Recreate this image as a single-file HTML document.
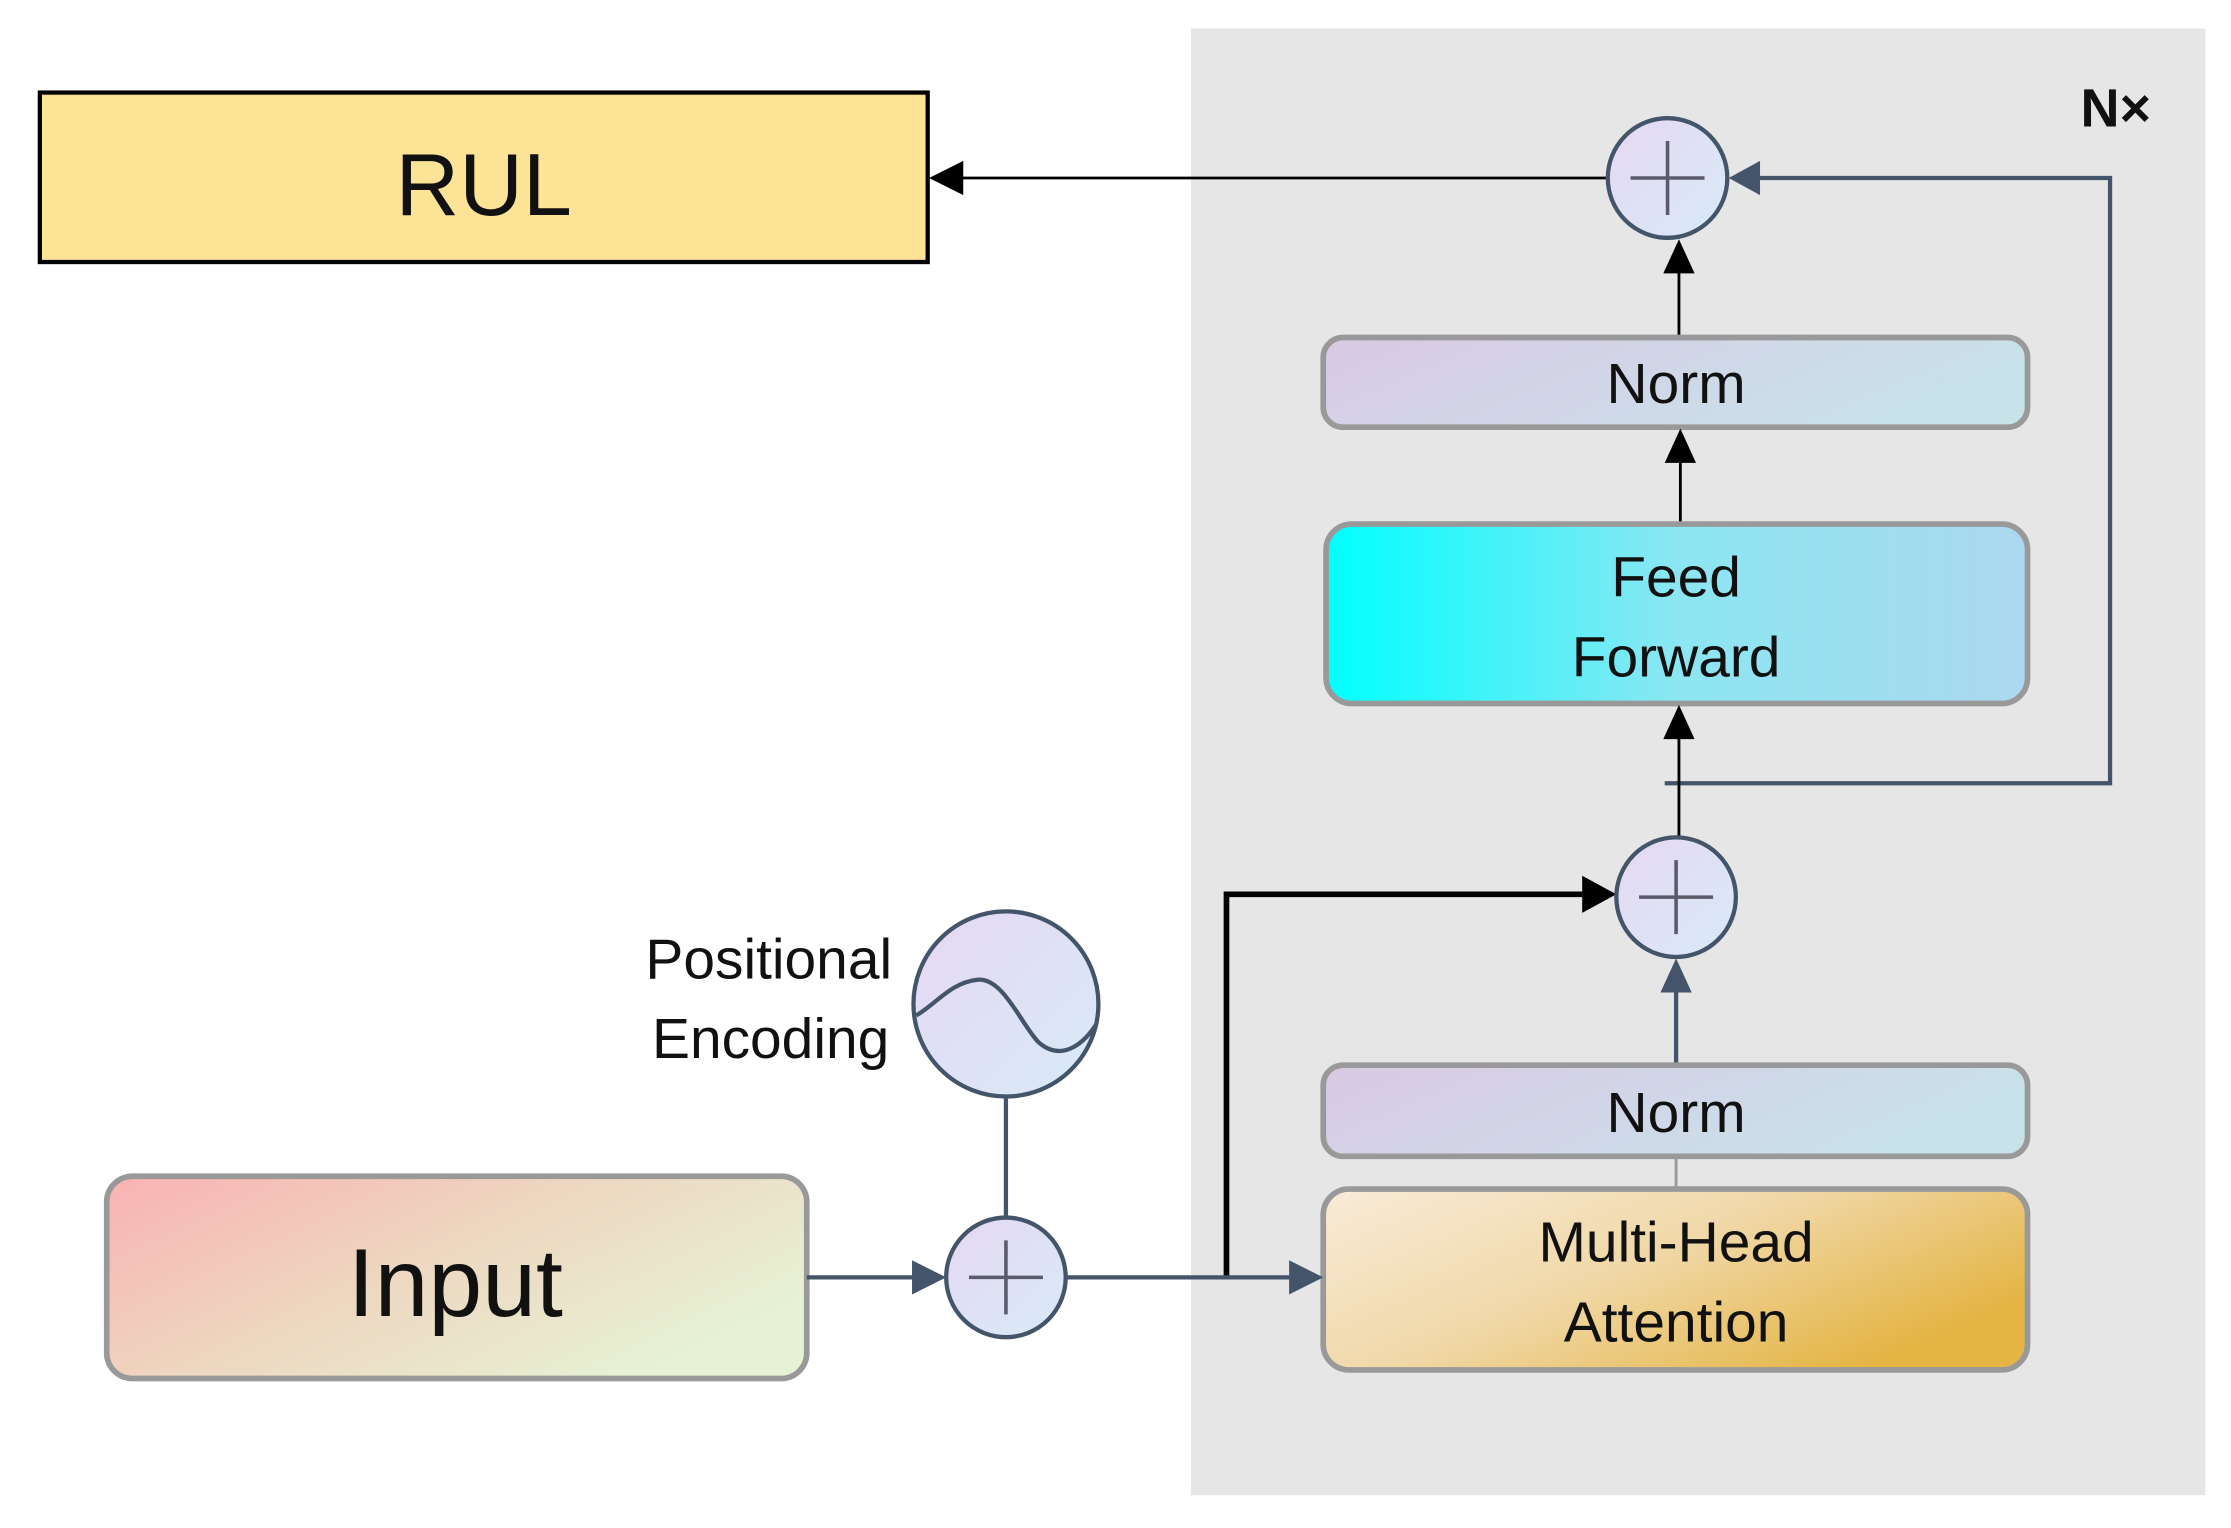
<!DOCTYPE html>
<html><head><style>html,body{margin:0;padding:0;background:#fff}svg{display:block}</style></head>
<body>
<svg width="2231" height="1528" viewBox="0 0 1568 1073" preserveAspectRatio="none" xmlns="http://www.w3.org/2000/svg" font-family="Liberation Sans, sans-serif">
<defs>
<linearGradient id="circ" x1="0" y1="0" x2="1" y2="1"><stop offset="0" stop-color="#e6d8f2"/><stop offset="1" stop-color="#d8eaf8"/></linearGradient>
<linearGradient id="norm" x1="0" y1="0" x2="1" y2="0.3"><stop offset="0" stop-color="#dac9e4"/><stop offset="1" stop-color="#c8e2ea"/></linearGradient>
<linearGradient id="ff" x1="0" y1="0" x2="1" y2="0"><stop offset="0" stop-color="#00ffff"/><stop offset="0.5" stop-color="#8ce6f2"/><stop offset="1" stop-color="#acd8f0"/></linearGradient>
<linearGradient id="mha" x1="0" y1="0" x2="1" y2="0.6"><stop offset="0" stop-color="#f8ebd8"/><stop offset="0.5" stop-color="#f0d8a8"/><stop offset="1" stop-color="#e4b444"/></linearGradient>
<linearGradient id="inp" x1="0" y1="0" x2="1" y2="0.6"><stop offset="0" stop-color="#f9b2b2"/><stop offset="0.5" stop-color="#eed6c0"/><stop offset="1" stop-color="#e6f2d4"/></linearGradient>
</defs>
<rect x="837" y="20" width="713" height="1030" fill="#e6e6e6"/>
<rect x="28" y="65" width="624" height="119" fill="#fde396" stroke="#000" stroke-width="3"/>
<text x="340" y="151" font-size="62" text-anchor="middle" fill="#111">RUL</text>
<text x="1487" y="89" font-size="38" text-anchor="middle" fill="#111" font-weight="bold">N×</text>
<line x1="1130" y1="125" x2="670" y2="125" stroke="#000" stroke-width="2"/>
<path d="M653,125 l24,-12 v24z" fill="#000"/>
<path d="M1170,550 H1483 V125 H1230" fill="none" stroke="#44546a" stroke-width="3"/>
<path d="M1215,125 l22,-12 v24z" fill="#44546a"/>
<circle cx="1172" cy="125" r="42" fill="url(#circ)" stroke="#44546a" stroke-width="3"/>
<path d="M1146,125 H1198 M1172,99 V151" stroke="#5a5a6a" stroke-width="2.5"/>
<line x1="1180" y1="237" x2="1180" y2="190" stroke="#000" stroke-width="2"/>
<path d="M1180,168 l-11,24 h22z" fill="#000"/>
<rect x="930" y="237" width="495" height="63" rx="14" fill="url(#norm)" stroke="#999" stroke-width="4"/>
<text x="1178" y="283" font-size="40" text-anchor="middle" fill="#111">Norm</text>
<line x1="1181" y1="368" x2="1181" y2="322" stroke="#000" stroke-width="2"/>
<path d="M1181,301 l-11,24 h22z" fill="#000"/>
<rect x="932" y="368" width="493" height="126" rx="18" fill="url(#ff)" stroke="#999" stroke-width="4"/>
<text x="1178" y="419" font-size="40" text-anchor="middle" fill="#111">Feed</text>
<text x="1178" y="475" font-size="40" text-anchor="middle" fill="#111">Forward</text>
<line x1="1180" y1="588" x2="1180" y2="515" stroke="#000" stroke-width="2"/>
<path d="M1180,495 l-11,24 h22z" fill="#000"/>
<path d="M862,897 V628 H1112" fill="none" stroke="#000" stroke-width="4"/>
<path d="M1136,628 l-24,-13 v26z" fill="#000"/>
<circle cx="1178" cy="630" r="42" fill="url(#circ)" stroke="#44546a" stroke-width="3"/>
<path d="M1152,630 H1204 M1178,604 V656" stroke="#5a5a6a" stroke-width="2.5"/>
<line x1="1178" y1="748" x2="1178" y2="695" stroke="#44546a" stroke-width="3"/>
<path d="M1178,673 l-11,24 h22z" fill="#44546a"/>
<rect x="930" y="748" width="495" height="64" rx="14" fill="url(#norm)" stroke="#999" stroke-width="4"/>
<text x="1178" y="795" font-size="40" text-anchor="middle" fill="#111">Norm</text>
<line x1="1178" y1="812" x2="1178" y2="835" stroke="#999" stroke-width="2"/>
<rect x="930" y="835" width="495" height="127" rx="18" fill="url(#mha)" stroke="#999" stroke-width="4"/>
<text x="1178" y="886" font-size="40" text-anchor="middle" fill="#111">Multi-Head</text>
<text x="1178" y="942" font-size="40" text-anchor="middle" fill="#111">Attention</text>
<rect x="75" y="826" width="492" height="142" rx="18" fill="url(#inp)" stroke="#999" stroke-width="4"/>
<text x="320" y="924" font-size="68" text-anchor="middle" fill="#111">Input</text>
<line x1="567" y1="897" x2="645" y2="897" stroke="#44546a" stroke-width="3"/>
<path d="M665,897 l-24,-12 v24z" fill="#44546a"/>
<line x1="749" y1="897" x2="908" y2="897" stroke="#44546a" stroke-width="3"/>
<path d="M930,897 l-24,-12 v24z" fill="#44546a"/>
<line x1="707" y1="770" x2="707" y2="855" stroke="#44546a" stroke-width="3"/>
<circle cx="707" cy="897" r="42" fill="url(#circ)" stroke="#44546a" stroke-width="3"/>
<path d="M681,897 H733 M707,871 V923" stroke="#5a5a6a" stroke-width="2.5"/>
<circle cx="707" cy="705" r="65" fill="url(#circ)" stroke="#44546a" stroke-width="3"/>
<path d="M644,713 C658,705 668,690 687,688 C705,686 718,720 730,732 C745,745 760,735 770,720" fill="none" stroke="#44546a" stroke-width="3"/>
<text x="627" y="687" font-size="40" text-anchor="end" fill="#111">Positional</text>
<text x="625" y="743" font-size="40" text-anchor="end" fill="#111">Encoding</text>
</svg>
</body></html>
